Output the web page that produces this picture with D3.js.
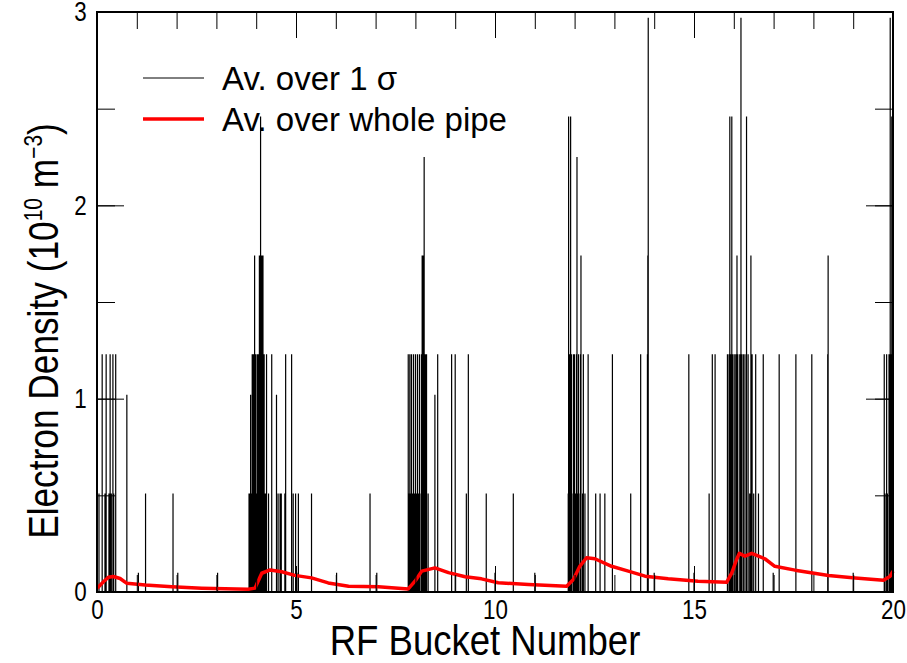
<!DOCTYPE html>
<html>
<head>
<meta charset="utf-8">
<script src="https://cdn.jsdelivr.net/npm/d3@7"></script>
<style>
  body { margin: 0; background: #fff; }
  svg { display: block; }
  text { font-family: "Liberation Sans", Arial, sans-serif; }
</style>
</head>
<body>
<svg id="chart" width="907" height="663"></svg>
<script>
// spike positions (RF bucket) grouped by the density level they reach (1e10 m^-3)
var spikes010 = [1.04, 2.03, 3.03, 5.02, 6.02, 7.03, 10.0, 11.0, 12.0, 14.0, 15.0, 16.99, 19.0];
var spikes051 = [0.05, 0.2, 0.3, 0.36, 0.42, 1.22, 1.91, 3.82, 3.84, 3.88, 3.95, 4.0, 4.06, 4.12,
  4.18, 4.23, 4.31, 4.55, 4.6, 4.63, 4.72, 4.93, 4.99, 5.06, 5.39, 6.86, 7.84, 7.88, 7.93, 7.98,
  8.03, 8.08, 8.14, 8.2, 8.26, 8.32, 9.28, 9.78, 10.46, 11.84, 11.9, 11.96, 12.02, 12.08, 12.14,
  12.2, 12.26, 12.53, 12.64, 12.76, 13.41, 15.38, 16.01, 16.32, 16.4, 16.5, 16.62, 19.8, 19.86, 19.92];
var spikes102 = [0.75, 3.86, 4.51, 8.49];
var spikes123 = [0.13, 0.23, 0.33, 0.4, 0.47, 3.9, 3.93, 3.98, 4.02, 4.05, 4.1, 4.13, 4.2, 4.26,
  4.39, 4.74, 4.89, 7.82, 7.86, 7.9, 7.95, 8.0, 8.05, 8.1, 8.15, 8.2, 8.25, 8.28, 8.56, 8.91, 9.0,
  9.33, 11.88, 11.92, 11.97, 12.0, 12.05, 12.1, 12.15, 12.22, 12.34, 12.95, 13.66, 13.83, 14.87,
  15.46, 15.53, 15.84, 15.88, 15.92, 15.97, 16.01, 16.05, 16.1, 16.15, 16.2, 16.24, 16.28, 16.36,
  16.46, 16.55, 16.74, 17.14, 17.56, 17.96, 18.36, 19.78, 19.84, 19.9, 19.95];
var spikes174 = [3.96, 4.08, 4.14, 4.17, 8.17, 8.19, 12.16, 13.84, 16.08, 16.43, 18.37];
var spikes225 = [8.22, 12.06];
var spikes246 = [4.11, 11.85, 11.9, 15.9, 15.95, 16.32, 19.97];
var spikes297 = [13.85, 16.18, 19.93];

// whole-pipe average (red)
var pipeX = [0, 0.03, 0.15, 0.285, 0.41, 0.58, 0.75, 1.21, 1.88, 2.63, 3.8, 3.97, 4.14, 4.35, 4.64,
  4.97, 5.39, 5.81, 6.32, 7.07, 7.82, 7.99, 8.16, 8.49, 8.83, 9.25, 9.66, 10.08, 10.84, 11.8, 11.97,
  12.13, 12.3, 12.51, 12.93, 13.35, 13.77, 14.35, 15.1, 15.82, 15.95, 16.07, 16.14, 16.28, 16.45,
  16.78, 17.03, 17.54, 18.38, 19.05, 19.76, 19.93, 20];
var pipeY = [0.02, 0.025, 0.05, 0.076, 0.08, 0.07, 0.045, 0.036, 0.027, 0.02, 0.014, 0.02, 0.097,
  0.114, 0.105, 0.086, 0.073, 0.047, 0.03, 0.027, 0.016, 0.056, 0.108, 0.125, 0.1, 0.079, 0.068,
  0.048, 0.039, 0.03, 0.065, 0.133, 0.177, 0.172, 0.133, 0.108, 0.082, 0.068, 0.056, 0.05, 0.099,
  0.168, 0.2, 0.185, 0.2, 0.172, 0.133, 0.113, 0.085, 0.073, 0.061, 0.082, 0.108];

var xTicks = [0, 5, 10, 15, 20];
var yTicks = [0, 1, 2, 3];
var legendLabels = ["Av. over 1 \u03c3", "Av. over whole pipe"];

var pLeft = 97, pRight = 893, pTop = 12, pBottom = 592;

var svg = d3.select('#chart');
var x = d3.scaleLinear().domain([0, 20]).range([pLeft, pRight]);
var y = d3.scaleLinear().domain([0, 3]).range([pBottom, pTop]);

// build the 1-sigma trace: each spike is a vertical excursion from zero
var groups = [[spikes010, 0.10], [spikes051, 0.51], [spikes102, 1.02], [spikes123, 1.23],
  [spikes174, 1.74], [spikes225, 2.25], [spikes246, 2.46], [spikes297, 2.97]];
var spikes = [];
groups.forEach(function(g){
  g[0].forEach(function(v){ spikes.push([v, g[1]]); });
});
spikes.sort(function(a, b){ return a[0] - b[0]; });
var sigmaPts = [[0, 0]];
spikes.forEach(function(s){
  sigmaPts.push([s[0], 0], [s[0], s[1]], [s[0], 0]);
});
sigmaPts.push([20, 0]);

var line = d3.line()
  .x(function(d){ return x(d[0]); })
  .y(function(d){ return y(d[1]); });

svg.append('path')
  .datum(sigmaPts)
  .attr('d', line)
  .attr('fill', 'none')
  .attr('stroke', '#000')
  .attr('stroke-width', 1.2);

svg.append('path')
  .datum(pipeX.map(function(v, i){ return [v, pipeY[i]]; }))
  .attr('d', line)
  .attr('fill', 'none')
  .attr('stroke', '#ff0000')
  .attr('stroke-width', 3.5)
  .attr('stroke-linejoin', 'round');

// axes, ticks pointing inward on all four sides
var minorX = d3.range(0, 21, 1), minorY = d3.range(0, 3.01, 0.5);

function drawAxis(axis, tx, ty, labels) {
  var g = svg.append('g').attr('transform', 'translate(' + tx + ',' + ty + ')').call(axis);
  g.select('.domain').remove();
  g.selectAll('.tick line').attr('stroke', '#000').attr('stroke-width', 1);
  if (!labels) g.selectAll('.tick text').remove();
  return g;
}

drawAxis(d3.axisBottom(x).tickValues(minorX).tickSize(-17).tickFormat(''), 0, pBottom, false);
drawAxis(d3.axisTop(x).tickValues(minorX).tickSize(-17).tickFormat(''), 0, pTop, false);
drawAxis(d3.axisLeft(y).tickValues(minorY).tickSize(-18).tickFormat(''), pLeft, 0, false);
drawAxis(d3.axisRight(y).tickValues(minorY).tickSize(-18).tickFormat(''), pRight, 0, false);

var bx = drawAxis(d3.axisBottom(x).tickValues(xTicks).tickSize(-26).tickPadding(7)
  .tickFormat(d3.format('d')), 0, pBottom, true);
bx.selectAll('.tick text')
  .attr('font-size', 28).attr('fill', '#000')
  .attr('font-family', '"Liberation Sans", Arial, sans-serif')
  .attr('transform', 'scale(0.8,1)');
drawAxis(d3.axisTop(x).tickValues(xTicks).tickSize(-26).tickFormat(''), 0, pTop, false);
var ly = drawAxis(d3.axisLeft(y).tickValues(yTicks).tickSize(-27).tickPadding(13)
  .tickFormat(d3.format('d')), pLeft, 0, true);
ly.selectAll('.tick text')
  .attr('font-size', 28).attr('fill', '#000')
  .attr('font-family', '"Liberation Sans", Arial, sans-serif')
  .attr('transform', 'scale(0.8,1)');
drawAxis(d3.axisRight(y).tickValues(yTicks).tickSize(-27).tickFormat(''), pRight, 0, false);

svg.append('rect')
  .attr('x', pLeft).attr('y', pTop)
  .attr('width', pRight - pLeft).attr('height', pBottom - pTop)
  .attr('fill', 'none').attr('stroke', '#000').attr('stroke-width', 2);

// titles
svg.append('text')
  .attr('transform', 'translate(485,655) scale(0.87,1)')
  .attr('text-anchor', 'middle')
  .attr('font-size', 42)
  .text('RF Bucket Number');

var yt = svg.append('text')
  .attr('transform', 'translate(58,331) rotate(-90) scale(0.84,1)')
  .attr('text-anchor', 'middle')
  .attr('font-size', 42);
yt.append('tspan').text('Electron Density (10');
yt.append('tspan').attr('font-size', 25).attr('dy', -16).text('10');
yt.append('tspan').attr('dy', 16).text(' m');
yt.append('tspan').attr('font-size', 25).attr('dy', -16).text('\u22123');
yt.append('tspan').attr('dy', 16).text(')');

// legend
var legend = svg.append('g');
var legendColors = ['#000', '#ff0000'], legendWidths = [1, 3.5];
legendLabels.forEach(function(t, i){
  var ly0 = 78 + i * 41;
  legend.append('line')
    .attr('x1', 143).attr('x2', 204).attr('y1', ly0).attr('y2', ly0)
    .attr('stroke', legendColors[i]).attr('stroke-width', legendWidths[i]);
  legend.append('text')
    .attr('x', 222).attr('y', ly0 + 12)
    .attr('font-size', 33)
    .text(t);
});
</script>
</body>
</html>
